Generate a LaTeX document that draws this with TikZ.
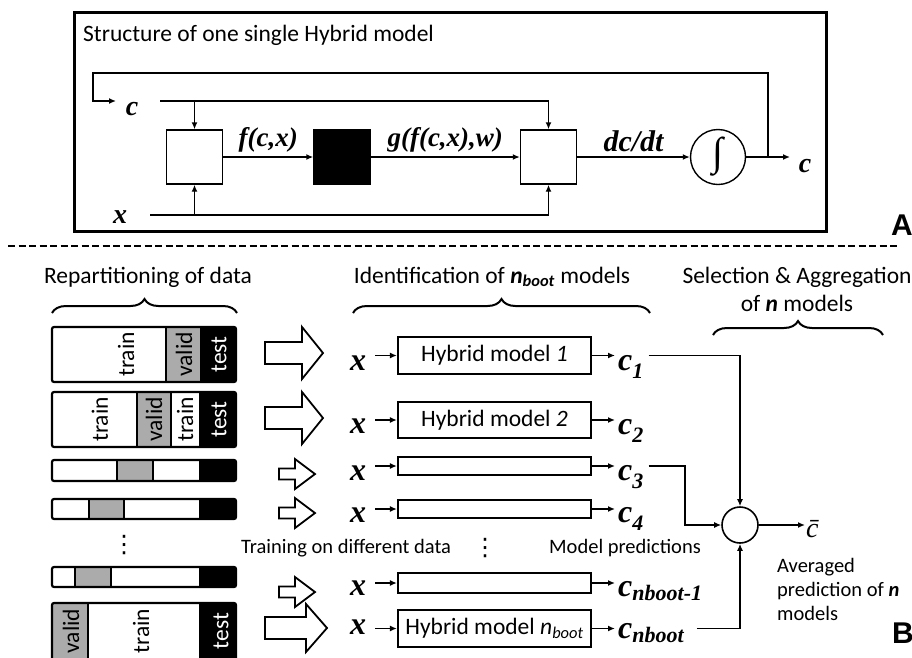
\documentclass[tikz,border=0pt]{standalone}
\usepackage{fontspec}
\setmainfont{Carlito}
\newfontfamily\tnr{Liberation Serif}
\newfontfamily\hlv{Liberation Sans}
\newfontfamily\djv{DejaVu Sans}
\usetikzlibrary{arrows.meta,positioning,decorations.pathreplacing}
\newcommand\fsz[1]{\fontsize{#1}{#1}\selectfont}
\newcommand\lowsub[2][0.25em]{\raisebox{-#1}{\fsz{22}#2}}

\begin{document}
\begin{tikzpicture}[x=1pt,y=-1pt,>={Latex[length=7pt,width=6pt]},
  every node/.style={inner sep=1pt},
  txt/.style={font=\fsz{23.5}},
  small/.style={font=\fsz{20.5}},
  dots/.style={font=\djv\fsz{24}},
  sym/.style={font=\tnr\bfseries\itshape\fsz{28}},
  bsym/.style={font=\tnr\bfseries\itshape\fsz{32},inner sep=3pt},
  blk/.style={draw,line width=1.4,minimum width=56,minimum height=54,inner sep=0},
  mbox/.style={draw,line width=2.2,minimum width=193,inner sep=0,font=\fsz{23.5}},
  wire/.style={line width=1.7},
  brc/.style={line width=2,decorate,decoration={brace,amplitude=14}}]

  \useasboundingbox (0,0) rectangle (912,657);
  \clip (0,0) rectangle (912,657);

  % Pannello A
  \draw[line width=3] (74,12) rectangle (826,231);
  \node[txt,anchor=base west] (titleA) at (82,41) {Structure of one single Hybrid model};

  \node[blk] (mix) at (194.5,157) {};
  \node[blk,fill=black] (ann) at (342,157) {};
  \node[blk] (bal) at (548.5,157) {};
  \node[draw,circle,line width=1.4,minimum size=55,inner sep=0,font=\tnr\fsz{40}] (int) at (718,157) {∫};

  \node[sym,anchor=base] (cin) at (132,115) {c};
  \node[sym,anchor=base] (xin) at (120,223) {x};
  \node[sym,anchor=base] (cout) at (805,172) {c};

  \coordinate (cline) at (160,101);
  \coordinate (xline) at (150,215);
  \coordinate (fb) at (768,157);
  \coordinate (fbl) at (93,73);
  \coordinate (cend) at (116,101);
  \coordinate (oend) at (790,157);

  \draw[wire,->] (cline) -| (bal.north);
  \draw[wire,->] (cline -| mix.north) -- (mix.north);
  \draw[wire,->] (xline) -| (bal.south);
  \draw[wire,->] (xline -| mix.south) -- (mix.south);
  \draw[wire,->] (mix) -- node[sym,above=3pt,font=\tnr\bfseries\itshape\fsz{27}] {f(c,x)} (ann);
  \draw[wire,->] (ann) -- node[sym,above=3pt,font=\tnr\bfseries\itshape\fsz{27}] {g(f(c,x),w)} (bal);
  \draw[wire,->] (bal) -- node[sym,above=3pt,font=\tnr\bfseries\itshape\fsz{30}] {dc/dt} (int);
  \draw[wire,->] (int) -- (oend);
  \draw[wire,->] (fb) |- (fbl) |- (cend);

  \node[font=\hlv\bfseries\fsz{30},anchor=base] (labA) at (902,235) {A};

  % Pannello B
  \draw[line width=2.5,dash pattern=on 7pt off 3.5pt] (8,246) -- (898,246);

  \node[txt] (hrep) at (148,277) {Repartitioning of data};
  \node[txt] (hid) at (492,277) {Identification of \textbf{\textit{n}}\textsubscript{\textbf{\textit{boot}}} models};
  \node[txt] (hsel) at (797,277) {Selection \& Aggregation};
  \node[txt] (hsel2) at (797,303) {of \textbf{\textit{n}} models};

  \draw[brc] (52,313) -- (237,313);
  \draw[brc] (353,313) -- (650,313);
  \draw[brc] (713,335) -- (883,335);

  % Dati
  \fill[black!33] (166,327) rectangle (200,382);
  \fill (200,327) rectangle (236,382);
  \draw[line width=1.4] (166,327) -- (166,382);
  \draw[line width=2.2,rounded corners=2] (52,327) rectangle (236,382);
  \node[txt,rotate=90] at (126,354.5) {train};
  \node[txt,rotate=90] at (184,354.5) {valid};
  \node[txt,rotate=90,text=white] at (219,354.5) {test};

  \fill[black!33] (137,392) rectangle (171,447);
  \fill (199,392) rectangle (236,447);
  \draw[line width=1.4] (137,392) -- (137,447) (171,392) -- (171,447);
  \draw[line width=2.2,rounded corners=2] (52,392) rectangle (236,447);
  \node[txt,rotate=90] at (100,419.5) {train};
  \node[txt,rotate=90] at (154,419.5) {valid};
  \node[txt,rotate=90] at (185,419.5) {train};
  \node[txt,rotate=90,text=white] at (219,419.5) {test};

  \foreach \ya/\yb/\ga/\gb in {460/481/117/153, 499/519/89/124, 567/587/75/111}{
    \fill[black!33] (\ga,\ya) rectangle (\gb,\yb);
    \fill (199,\ya) rectangle (236,\yb);
    \draw[line width=1.4] (\ga,\ya) -- (\ga,\yb) (\gb,\ya) -- (\gb,\yb);
    \draw[line width=2.2,rounded corners=2] (52,\ya) rectangle (236,\yb);
  }

  \fill[black!33] (52,603) rectangle (88,662);
  \fill (199,603) rectangle (236,662);
  \draw[line width=1.4] (88,603) -- (88,662);
  \draw[line width=2.2,rounded corners=2] (52,603) rectangle (236,662);
  \node[txt,rotate=90] at (71,631) {valid};
  \node[txt,rotate=90] at (141,631) {train};
  \node[txt,rotate=90,text=white] at (221,631) {test};

  \node[dots] (vd1) at (124,545) {⋮};

  % Frecce vuote (punta x, y, lunghezza, testa, mezza testa, mezzo fusto)
  \foreach \tx/\ty/\L/\hl/\H/\S in {323/353/58/21/26/11, 323/418/58/21/26/11,
      315/474/36/20/15/5.5, 315/513/36/20/15/5.5, 315/592/36/20/15/5.5, 327/628/62/21/24/11}{
    \draw[line width=1.8,line join=miter] (\tx,\ty) -- ++(-\hl,-\H) -- ++(0,{\H-\S}) -- ++({\hl-\L},0)
      -- ++(0,{2*\S}) -- ++({\L-\hl},0) -- ++(0,{\H-\S}) -- cycle;
  }

  % Modelli
  \node[mbox,minimum height=37] (m1) at (494.5,355.5) {Hybrid model \textit{1}};
  \node[mbox,minimum height=36] (m2) at (494.5,420) {Hybrid model \textit{2}};
  \node[mbox,minimum height=18] (m3) at (494.5,466) {};
  \node[mbox,minimum height=18] (m4) at (494.5,509) {};
  \node[mbox,minimum height=20] (m5) at (494.5,583) {};
  \node[mbox,minimum height=37] (m6) at (494.5,628.5) {Hybrid model \textit{n}\textsubscript{\textit{boot}}};

  \node[bsym,anchor=base] (x1) at (358,370) {x};
  \node[bsym,anchor=base] (x2) at (358,433) {x};
  \node[bsym,anchor=base] (x3) at (358,480) {x};
  \node[bsym,anchor=base] (x4) at (358,522) {x};
  \node[bsym,anchor=base] (x5) at (358,595) {x};
  \node[bsym,anchor=base] (x6) at (358,634) {x};

  \node[bsym,anchor=base west] (c1) at (615,370) {c\lowsub{1}};
  \node[bsym,anchor=base west] (c2) at (615,434) {c\lowsub{2}};
  \node[bsym,anchor=base west] (c3) at (615,480) {c\lowsub{3}};
  \node[bsym,anchor=base west] (c4) at (615,522) {c\lowsub{4}};
  \node[bsym,anchor=base west] (c5) at (615,596) {c\lowsub[0.15em]{nboot-1}};
  \node[bsym,anchor=base west] (c6) at (615,638) {c\lowsub[0.15em]{nboot}};

  \foreach \i in {1,...,6}{
    \draw[wire,->] ([xshift=6]x\i.east |- m\i.west) -- (m\i.west);
    \draw[wire,->] (m\i.east) -- (m\i.east -| c\i.west);
  }

  \node[small,anchor=west] (train) at (240,548) {Training on different data};
  \node[dots] (vd2) at (485,548) {⋮};
  \node[small,anchor=west] (pred) at (548,548) {Model predictions};

  % Aggregazione
  \node[draw,circle,line width=1.6,minimum size=36,inner sep=0] (agg) at (740,525) {};
  \coordinate (k3) at (685,525);
  \draw[wire,->] ([xshift=2]c1.east |- m1.east) -| (agg.north);
  \draw[wire,->] ([xshift=2]c3.east |- m3.east) -| (k3) -- (agg.west);
  \draw[wire,->] ([xshift=10]c6.east |- m6.east) -| (agg.south);

  \node[font=\tnr\itshape\fsz{28},anchor=base west] (cbar) at (805,537) {c^^^^0304};
  \draw[wire,->] (agg) -- (agg -| cbar.west);

  \node[anchor=north west,align=left,font=\fontsize{20.5}{24}\selectfont,inner sep=0] (avg) at (777,558) {Averaged\\prediction of \textbf{\textit{n}}\\models};

  \node[font=\hlv\bfseries\fsz{30},anchor=base] (labB) at (903,643) {B};

\end{tikzpicture}
\end{document}
